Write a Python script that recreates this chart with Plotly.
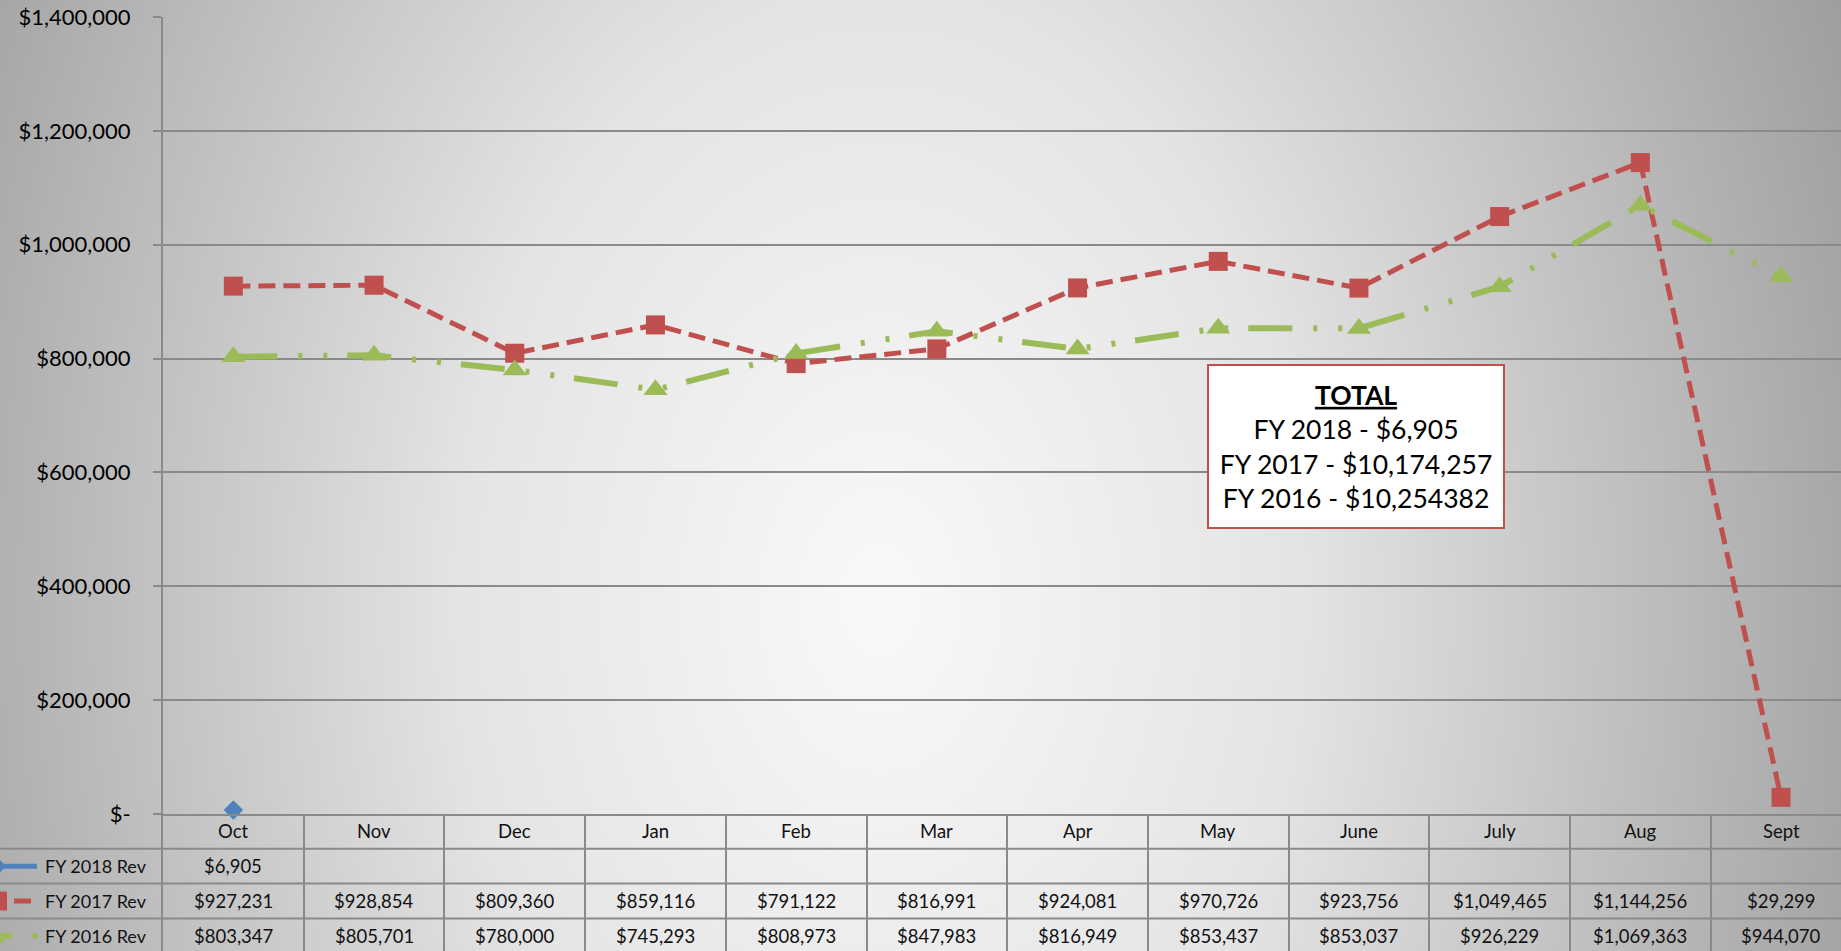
import base64
import plotly.graph_objects as go

# ---------------- data ----------------
months = ["Oct", "Nov", "Dec", "Jan", "Feb", "Mar", "Apr", "May", "June", "July", "Aug", "Sept"]
fy2018 = [6905, None, None, None, None, None, None, None, None, None, None, None]
fy2017 = [927231, 928854, 809360, 859116, 791122, 816991, 924081, 970726, 923756, 1049465, 1144256, 29299]
fy2016 = [803347, 805701, 780000, 745293, 808973, 847983, 816949, 853437, 853037, 926229, 1069363, 944070]
series_names = ["FY 2018 Rev", "FY 2017 Rev", "FY 2016 Rev"]
y_ticks = [0, 200000, 400000, 600000, 800000, 1000000, 1200000, 1400000]
total_lines = ["FY 2018 - $6,905", "FY 2017 - $10,174,257", "FY 2016 - $10,254382"]

# ---------------- layout constants (pixels) ----------------
W, H = 1841, 951
PL, PT, PB = 163, 17, 814       # plot left, plot top, plot bottom
COL_W = 140.7
ROW_H = 34.8
BLUE, RED, GREEN = "#4F81BD", "#C0504D", "#9BBB59"
GRID = "#8a8a8a"
FONT = "Lato"

def px(x):
    return x / W

def py(y):
    return 1 - y / H

x_range = [-0.5, -0.5 + (W - PL) / COL_W]
table_rows = (H - PB) / ROW_H

# ---------------- background gradient ----------------
svg = f'''<svg xmlns="http://www.w3.org/2000/svg" width="{W}" height="{H}" viewBox="0 0 {W} {H}" preserveAspectRatio="none">
<defs><radialGradient id="g" gradientUnits="userSpaceOnUse" cx="880" cy="600" r="1050"
 gradientTransform="translate(880 600) scale(1 1.43) translate(-880 -600)">
<stop offset="0" stop-color="#f9f9f9"/><stop offset="0.4" stop-color="#e4e4e4"/><stop offset="1" stop-color="#9e9e9e"/>
</radialGradient></defs><rect x="0" y="0" width="{W}" height="{H}" fill="url(#g)"/></svg>'''
bg_uri = "data:image/svg+xml;base64," + base64.b64encode(svg.encode()).decode()

fig = go.Figure()
xs = list(range(len(months)))

fig.add_trace(go.Scatter(x=xs, y=fy2018, name=series_names[0], mode="lines+markers",
                         line=dict(color=BLUE, width=5),
                         marker=dict(symbol="diamond", size=15, color=BLUE),
                         xaxis="x", yaxis="y", showlegend=False, cliponaxis=False))
fig.add_trace(go.Scatter(x=xs, y=fy2017, name=series_names[1], mode="lines+markers",
                         line=dict(color=RED, width=5, dash="17px,8px"),
                         marker=dict(symbol="square", size=19, color=RED),
                         xaxis="x", yaxis="y", showlegend=False, cliponaxis=False))
fig.add_trace(go.Scatter(x=xs, y=fy2016, name=series_names[2], mode="lines+markers",
                         line=dict(color=GREEN, width=6, dash="44px,21px,4px,21px,4px,20px"),
                         marker=dict(symbol="triangle-up", size=21, color=GREEN),
                         xaxis="x", yaxis="y", showlegend=False, cliponaxis=False))

annotations = []
shapes = []

# table header (months)
for i, m in enumerate(months):
    annotations.append(dict(x=i, y=0.5, xref="x2", yref="y2", text=m, showarrow=False,
                            font=dict(family=FONT, size=18.5, color="#111")))
# table cells
for r, vals in enumerate([fy2018, fy2017, fy2016]):
    for i, v in enumerate(vals):
        if v is None:
            continue
        annotations.append(dict(x=i, y=r + 1.5, xref="x2", yref="y2", text=f"${v:,}",
                                showarrow=False, font=dict(family=FONT, size=18.5, color="#111")))
    annotations.append(dict(x=px(149), y=r + 1.5, xref="paper", yref="y2", text=series_names[r],
                            xanchor="right", showarrow=False,
                            font=dict(family=FONT, size=18, color="#111")))
    # horizontal table lines
    shapes.append(dict(type="line", xref="paper", yref="y2", x0=0, x1=1, y0=r + 1, y1=r + 1,
                       line=dict(color=GRID, width=2), layer="above"))

# legend keys at left of table
def row_c(r):
    return PB + (r + 0.5) * ROW_H

def path(pts):
    return "M" + "L".join(f"{px(a):.5f},{py(b):.5f}" for a, b in pts) + "Z"

c1, c2, c3 = row_c(1), row_c(2), row_c(3)
shapes += [
    dict(type="line", xref="paper", yref="paper", x0=px(0), x1=px(37), y0=py(c1), y1=py(c1),
         line=dict(color=BLUE, width=5)),
    dict(type="path", xref="paper", yref="paper", path=path([(-14, c1), (-4, c1 - 10), (6, c1), (-4, c1 + 10)]),
         fillcolor=BLUE, line=dict(width=0)),
    dict(type="rect", xref="paper", yref="paper", x0=px(-12), x1=px(7), y0=py(c2 - 9.5), y1=py(c2 + 9.5),
         fillcolor=RED, line=dict(width=0)),
    dict(type="line", xref="paper", yref="paper", x0=px(14), x1=px(31), y0=py(c2), y1=py(c2),
         line=dict(color=RED, width=5)),
    dict(type="path", xref="paper", yref="paper", path=path([(-17, c3 + 7), (5, c3 + 7), (-6, c3 - 11)]),
         fillcolor=GREEN, line=dict(width=0)),
    dict(type="line", xref="paper", yref="paper", x0=px(-6), x1=px(12), y0=py(c3), y1=py(c3),
         line=dict(color=GREEN, width=6)),
    dict(type="circle", xref="paper", yref="paper", x0=px(32), x1=px(38), y0=py(c3 - 3), y1=py(c3 + 3),
         fillcolor=GREEN, line=dict(width=0)),
]

# TOTAL box
annotations.append(dict(
    x=px(1356), y=py(446.5), xref="paper", yref="paper", showarrow=False,
    text="<b><u>TOTAL</u></b><br>" + "<br>".join(total_lines),
    font=dict(family=FONT, size=26.5, color="#000"), align="center",
    bgcolor="#ffffff", bordercolor=RED, borderwidth=2, borderpad=0,
    width=294, height=161, xanchor="center", yanchor="middle"))

fig.update_layout(
    template="none",
    width=W, height=H, autosize=False,
    margin=dict(l=0, r=0, t=0, b=0, pad=0),
    paper_bgcolor="#bdbdbd",
    plot_bgcolor="rgba(0,0,0,0)",
    showlegend=False,
    images=[dict(source=bg_uri, xref="paper", yref="paper", x=0, y=1, sizex=1, sizey=1,
                 sizing="stretch", xanchor="left", yanchor="top", layer="below")],
    xaxis=dict(domain=[px(PL), 1], range=x_range, anchor="y", showticklabels=False, automargin=False,
               showgrid=False, zeroline=False, showline=True, linecolor=GRID, linewidth=2, ticks=""),
    yaxis=dict(domain=[py(PB), py(PT)], range=[0, 1400000], anchor="x", automargin=False,
               tickvals=y_ticks, ticktext=["$-" if v == 0 else f"${v:,}" for v in y_ticks],
               tickfont=dict(family=FONT, size=22, color="#000"),
               showgrid=True, gridcolor=GRID, gridwidth=2, zeroline=False,
               showline=True, linecolor=GRID, linewidth=2,
               ticks="outside", ticklen=8, tickcolor=GRID, tickwidth=2, ticklabelstandoff=18),
    xaxis2=dict(domain=[px(PL), 1], range=x_range, anchor="y2", showticklabels=False, automargin=False,
                tickvals=[i + 0.5 for i in range(len(months))], showgrid=True, gridcolor=GRID,
                gridwidth=2, zeroline=False, ticks=""),
    yaxis2=dict(domain=[0, py(PB)], range=[table_rows, 0], anchor="x2", showticklabels=False,
                automargin=False, showgrid=False, zeroline=False, showline=True, linecolor=GRID,
                linewidth=2, ticks=""),
    annotations=annotations,
    shapes=shapes,
)

fig.write_html("out.html", config={"responsive": False, "displayModeBar": False},
               post_script="document.body.style.margin='0';document.body.style.overflow='hidden';")
